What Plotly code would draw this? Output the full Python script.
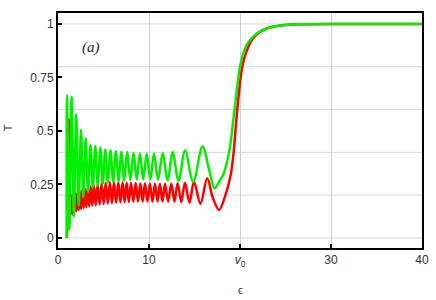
import plotly.graph_objects as go

# ---- data ----
green_eps = [0.95, 0.99, 1.25, 1.5, 1.75, 2.0, 2.27, 2.53, 2.78, 3.04, 3.3, 3.57, 3.83, 4.1,
             4.37, 4.65, 4.92, 5.2, 5.48, 5.77, 6.06, 6.36, 6.66, 6.97, 7.28, 7.6, 7.95, 8.3,
             8.65, 9.0, 9.37, 9.75, 10.15, 10.55, 11.0, 11.5, 12.05, 12.6, 13.25, 13.97,
             14.85, 15.88, 16.6, 17.2, 17.8, 18.2, 18.8, 19.4, 20.0, 20.5, 21.1, 22.0, 23.0,
             24.5, 27.0, 32.0, 40.0]
green_T = [0.0, 0.668, 0.04, 0.66, 0.1, 0.578, 0.15, 0.505, 0.19, 0.466, 0.215, 0.435, 0.235,
           0.43, 0.245, 0.422, 0.252, 0.413, 0.258, 0.41, 0.262, 0.405, 0.266, 0.402, 0.268,
           0.4, 0.27, 0.398, 0.272, 0.396, 0.273, 0.395, 0.273, 0.395, 0.272, 0.396, 0.27,
           0.40, 0.267, 0.408, 0.263, 0.427, 0.32, 0.232, 0.27, 0.3, 0.4, 0.6, 0.8, 0.88,
           0.925, 0.96, 0.98, 0.993, 0.999, 1.0, 1.0]

red_eps = [0.98, 1.05, 1.2, 1.33, 1.5, 1.6, 1.7, 1.81, 1.92, 2.03, 2.15, 2.27, 2.4, 2.53, 2.67,
           2.81, 2.96, 3.11, 3.27, 3.43, 3.6, 3.77, 3.95, 4.15, 4.35, 4.57, 4.8, 5.02, 5.24,
           5.47, 5.71, 5.93, 6.15, 6.39, 6.63, 6.86, 7.1, 7.32, 7.55, 7.78, 8.02, 8.27, 8.53,
           8.79, 9.05, 9.3, 9.56, 9.83, 10.1, 10.38, 10.66, 10.93, 11.2, 11.48, 11.76, 12.1,
           12.45, 12.8, 13.15, 13.55, 13.95, 14.45, 14.95, 15.65, 16.4, 17.0, 17.7, 18.4,
           19.0, 19.3, 19.7, 20.25, 20.7, 21.3, 22.1, 23.0, 24.5, 27.0, 32.0, 40.0]
red_T = [0.0, 0.1, 0.556, 0.1, 0.2, 0.11, 0.205, 0.12, 0.21, 0.125, 0.215, 0.13, 0.22, 0.135,
         0.225, 0.14, 0.23, 0.143, 0.235, 0.147, 0.24, 0.15, 0.245, 0.153, 0.25, 0.156, 0.255,
         0.158, 0.258, 0.16, 0.26, 0.162, 0.26, 0.164, 0.26, 0.166, 0.26, 0.167, 0.259, 0.168,
         0.258, 0.169, 0.257, 0.17, 0.256, 0.17, 0.255, 0.17, 0.254, 0.17, 0.253, 0.17, 0.253,
         0.17, 0.253, 0.17, 0.254, 0.17, 0.255, 0.168, 0.258, 0.165, 0.263, 0.16, 0.279,
         0.19, 0.131, 0.2, 0.3, 0.4, 0.6, 0.8, 0.87, 0.925, 0.96, 0.98, 0.993, 0.999, 1.0, 1.0]

x_tickvals = [0, 10, 20, 30, 40]
x_ticktext = ["0", "10", "<i>v</i><sub>0</sub>", "30", "40"]
y_tickvals = [0, 0.25, 0.5, 0.75, 1]
y_ticktext = ["0", "0.25", "0.5", "0.75", "1"]
y_gridvals = [0, 0.2, 0.4, 0.6, 0.8, 1.0]

fig = go.Figure()
fig.add_trace(go.Scatter(x=red_eps, y=red_T, mode="lines",
                         line=dict(color="rgb(255,0,0)", width=2.5, shape="spline", smoothing=1.0),
                         showlegend=False, hoverinfo="skip"))
fig.add_trace(go.Scatter(x=green_eps, y=green_T, mode="lines",
                         line=dict(color="rgb(0,240,0)", width=2.5, shape="spline", smoothing=1.0),
                         showlegend=False, hoverinfo="skip"))

for g in y_gridvals:
    fig.add_shape(type="line", xref="paper", x0=0, x1=1, yref="y", y0=g, y1=g,
                  line=dict(color="#d6d6d6", width=1), layer="below")

fig.add_annotation(x=3.6, y=0.89, xref="x", yref="y", text="<i>(a)</i>", showarrow=False,
                   font=dict(family="Liberation Serif", size=15, color="#222"))

tickfont = dict(family="Liberation Sans, Arial", size=12, color="#333")
titlefont = dict(family="Liberation Sans, Arial", size=11, color="#333")
fig.update_layout(
    width=436, height=300,
    margin=dict(l=58, r=14, t=13, b=52, autoexpand=False),
    paper_bgcolor="white", plot_bgcolor="white",
    xaxis=dict(range=[0, 40], tickvals=x_tickvals, ticktext=x_ticktext, automargin=False,
               showgrid=True, gridcolor="#d0d0d0", gridwidth=1, zeroline=False,
               showline=True, linecolor="black", linewidth=2, mirror=True,
               ticks="inside", ticklen=4, tickwidth=2, tickcolor="black",
               tickfont=tickfont),
    yaxis=dict(range=[-0.047, 1.051], tickvals=y_tickvals, ticktext=y_ticktext, automargin=False,
               showgrid=False, zeroline=False,
               showline=True, linecolor="black", linewidth=2, mirror=True,
               ticks="inside", ticklen=4, tickwidth=2, tickcolor="black",
               tickfont=tickfont),
)
fig.add_annotation(x=0.5, y=-0.179, xref="paper", yref="paper", text="ϵ", showarrow=False,
                   font=titlefont, yanchor="middle")
fig.add_annotation(x=-0.137, y=0.51, xref="paper", yref="paper", text="T", showarrow=False,
                   font=titlefont, textangle=-90, xanchor="center")

fig.write_html("out.html", config={"displayModeBar": False},
               post_script="document.body.style.margin='0px';document.body.style.padding='0px';")
